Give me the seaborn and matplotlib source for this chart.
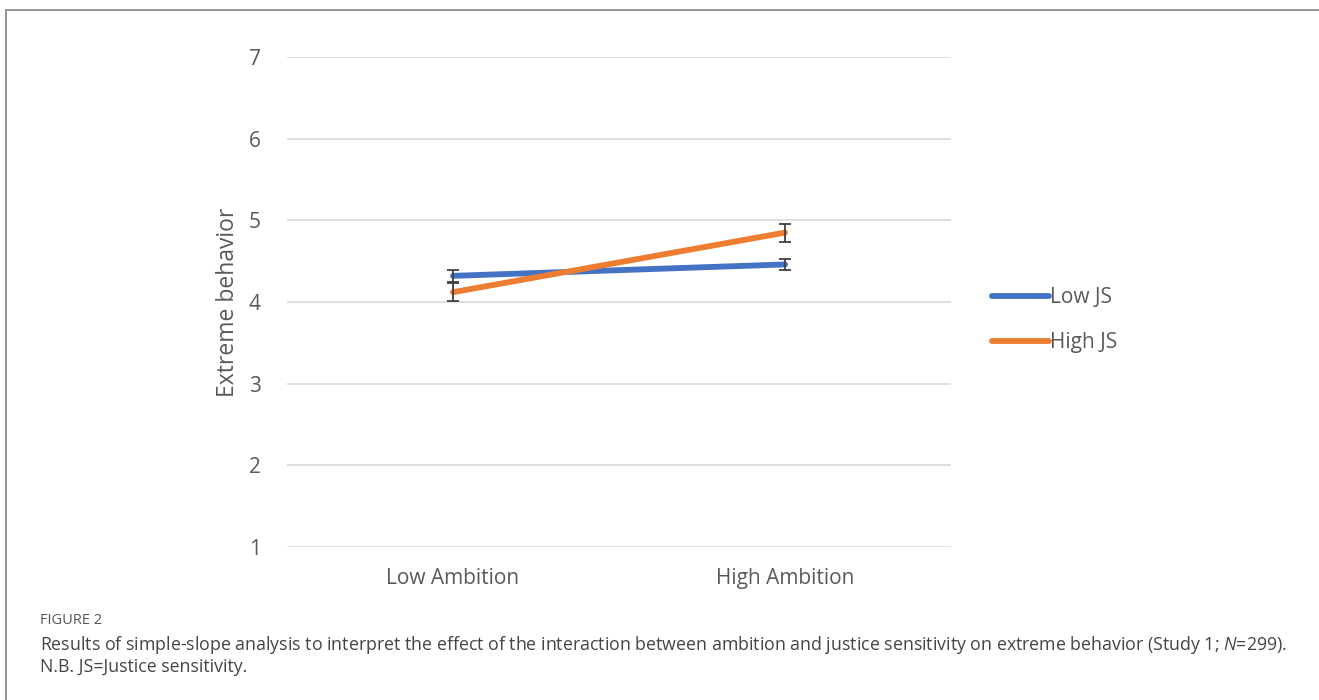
import matplotlib
matplotlib.use("Agg")
import matplotlib.pyplot as plt
from matplotlib.lines import Line2D
import seaborn as sns
import pandas as pd

# ---- data ----
categories = ["Low Ambition", "High Ambition"]
low_js = [4.32, 4.46]
high_js = [4.12, 4.85]
low_js_err = [0.07, 0.07]
high_js_err = [0.11, 0.11]
series_names = ["Low JS", "High JS"]
y_ticks = [1, 2, 3, 4, 5, 6, 7]
y_label = "Extreme behavior"
caption_head = "FIGURE 2"

sns.set_theme(style="white")
plt.rcParams["font.family"] = ["Open Sans", "DejaVu Sans"]
plt.rcParams["mathtext.fontset"] = "custom"
plt.rcParams["mathtext.it"] = "Open Sans:italic"
plt.rcParams["mathtext.rm"] = "Open Sans"

df = pd.DataFrame({
    "ambition": categories * 2,
    "value": low_js + high_js,
    "err": low_js_err + high_js_err,
    "group": [series_names[0]] * 2 + [series_names[1]] * 2,
})

colors = {"Low JS": "#4472C4", "High JS": "#ED7D31"}

fig = plt.figure(figsize=(13.19, 7.0), dpi=100)
ax = fig.add_axes([287 / 1319, 1 - 547 / 700, (951 - 287) / 1319, 490 / 700])

sns.lineplot(data=df, x="ambition", y="value", hue="group", palette=colors,
             linewidth=4.2, ax=ax, sort=False, legend=False, zorder=3,
             solid_capstyle="round")

for name in series_names:
    sub = df[df["group"] == name]
    ax.errorbar(sub["ambition"], sub["value"], yerr=sub["err"], fmt="none",
                ecolor="#404040", elinewidth=1.3, capsize=4.5, capthick=1.3,
                zorder=4)

ax.set_xlim(-0.5, 1.5)
ax.set_ylim(1, 7)
ax.set_yticks(y_ticks)
ax.set_yticklabels([str(t) for t in y_ticks])
ax.yaxis.grid(True, color="#D9D9D9", linewidth=1.2)
ax.set_axisbelow(True)
for s in ax.spines.values():
    s.set_visible(False)
ax.tick_params(axis="both", length=0, labelsize=15, colors="#595959")
ax.tick_params(axis="y", pad=19)
ax.tick_params(axis="x", pad=15)
ax.set_xlabel("")
ax.set_ylabel(y_label, fontsize=16.5, color="#595959", labelpad=6)

handles = [Line2D([0], [0], color=colors[n], linewidth=4.2, solid_capstyle="round")
           for n in series_names]
fig.legend(handles, series_names, loc="center left",
           bbox_to_anchor=(973 / 1319, 1 - 320 / 700), frameon=False,
           fontsize=15, labelcolor="#595959", handlelength=2.75,
           handletextpad=0.05, labelspacing=1.15)

# frame lines
fig.add_artist(Line2D([6 / 1319, 6 / 1319], [0, 1 - 10 / 700], color="#8C8C8C",
                      linewidth=1.3, transform=fig.transFigure))
fig.add_artist(Line2D([6 / 1319, 1], [1 - 10 / 700, 1 - 10 / 700], color="#8C8C8C",
                      linewidth=1.3, transform=fig.transFigure))

fig.text(40 / 1319, 1 - 620 / 700, caption_head, fontsize=10.5, color="#555555",
         va="center", ha="left")
fig.text(40 / 1319, 1 - 645 / 700,
         "Results of simple-slope analysis to interpret the effect of the interaction between ambition and justice sensitivity on extreme behavior (Study 1; $\\mathit{N}$=299).",
         fontsize=12.8, color="#444444", va="center", ha="left")
fig.text(40 / 1319, 1 - 667 / 700, "N.B. JS=Justice sensitivity.",
         fontsize=12.8, color="#444444", va="center", ha="left")

fig.savefig("out.png", dpi=100)
